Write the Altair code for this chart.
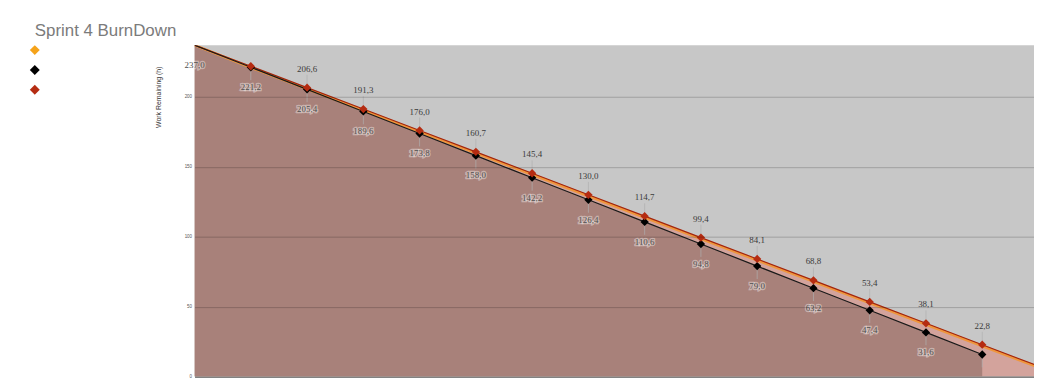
import altair as alt
import pandas as pd

# ---- data ----
series_names = ["Remaining (orange)", "Ideal", "Actual"]
series_colors = ["#f5a31a", "#000000", "#b52c12"]

days_ideal = list(range(0, 15))
ideal = [237.0, 221.2, 205.4, 189.6, 173.8, 158.0, 142.2, 126.4, 110.6, 94.8, 79.0, 63.2, 47.4, 31.6, 15.8]

days_actual = list(range(0, 16))
actual = [237.0, 221.9, 206.6, 191.3, 176.0, 160.7, 145.4, 130.0, 114.7, 99.4, 84.1, 68.8, 53.4, 38.1, 22.8, 7.5]
orange = [237.0, 221.0, 205.7, 190.4, 175.1, 159.8, 144.5, 129.1, 113.8, 98.5, 83.2, 67.9, 52.5, 37.2, 21.9, 6.6]

y_ticks = [0, 50, 100, 150, 200]

def fmt(v):
    return f"{v:.1f}".replace(".", ",")

ideal_df = pd.DataFrame({"day": days_ideal, "value": ideal, "series": "Ideal"})
actual_df = pd.DataFrame({"day": days_actual, "value": actual, "series": "Actual"})
orange_df = pd.DataFrame({"day": days_actual, "value": orange, "series": "Remaining (orange)"})
for d in (ideal_df, actual_df, orange_df):
    d["label"] = d["value"].map(fmt)

X_MAX = 14.92
xs = alt.Scale(domain=[0, X_MAX], nice=False, zero=False)
ys = alt.Scale(domain=[0, 237], nice=False)
cs = alt.Scale(domain=series_names, range=series_colors)

x_enc = alt.X("day:Q", scale=xs,
              axis=alt.Axis(labels=False, ticks=False, grid=False, domain=True,
                            domainColor="#6e6e6e", domainWidth=1.2, title=None))
y_enc = alt.Y("value:Q", scale=ys,
              axis=alt.Axis(values=y_ticks, grid=True, gridColor="#000000", gridOpacity=0.2,
                            gridWidth=1, ticks=False, domain=False, labelFontSize=4.5,
                            labelColor="#555555", labelPadding=3, labelFont="Liberation Sans",
                            title="Work Remaining (h)", titleFontSize=7, titleFontWeight="normal",
                            titleColor="#333333", titleFont="Liberation Sans",
                            titleX=-36, titleY=52, titleAngle=270, titleAlign="center",
                            titleBaseline="middle", zindex=1))

area_actual = alt.Chart(actual_df).mark_area(color="#d3a39c", clip=True).encode(x=x_enc, y=y_enc)
area_ideal = alt.Chart(ideal_df).mark_area(color="#a8817a", clip=True).encode(x="day:Q", y="value:Q")

line_orange = alt.Chart(orange_df).mark_line(strokeWidth=2.6, clip=True, color="#ef963c").encode(
    x="day:Q", y="value:Q")
line_ideal = alt.Chart(ideal_df).mark_line(strokeWidth=1.2, clip=True, color="#1a1a1a").encode(
    x="day:Q", y="value:Q")
line_actual = alt.Chart(actual_df).mark_line(strokeWidth=1.2, clip=True, color="#a3260e").encode(
    x="day:Q", y="value:Q")

# leader lines
lead_ideal = alt.Chart(ideal_df[(ideal_df.day >= 1) & (ideal_df.day <= 14)]).mark_rule(
    color="#b0b0b0", strokeWidth=0.7, y2Offset=13).encode(x="day:Q", y="value:Q", y2="value:Q")
lead_actual = alt.Chart(actual_df[(actual_df.day >= 2) & (actual_df.day <= 14)]).mark_rule(
    color="#b0b0b0", strokeWidth=0.7, y2Offset=-13).encode(x="day:Q", y="value:Q", y2="value:Q")

pts_df = pd.concat([ideal_df[(ideal_df.day >= 1) & (ideal_df.day <= 14)],
                    actual_df[(actual_df.day >= 1) & (actual_df.day <= 14)]])
points = alt.Chart(pts_df).mark_point(shape="diamond", filled=True, size=70, opacity=1).encode(
    x="day:Q", y="value:Q",
    color=alt.Color("series:N", scale=cs,
                    legend=alt.Legend(orient="none", legendX=-166, legendY=0, title=None,
                                      symbolType="diamond", symbolSize=100, labelExpr="''",
                                      rowPadding=10, padding=0, symbolStrokeWidth=0,
                                      symbolOpacity=1)))

lab_font = "Liberation Serif"
ideal_lab = ideal_df[ideal_df.day <= 13]
lab_ideal_halo = alt.Chart(ideal_lab).mark_text(
    font=lab_font, fontSize=9, dy=20, stroke="#ffffff", strokeWidth=2.5, strokeOpacity=0.4,
    fill="#ffffff", fillOpacity=0).encode(x="day:Q", y="value:Q", text="label:N")
lab_ideal = alt.Chart(ideal_lab).mark_text(
    font=lab_font, fontSize=9, dy=20, color="#505050").encode(x="day:Q", y="value:Q", text="label:N")
lab_actual = alt.Chart(actual_df[(actual_df.day >= 2) & (actual_df.day <= 14)]).mark_text(
    font=lab_font, fontSize=9, dy=-19, color="#3a3a3a").encode(x="day:Q", y="value:Q", text="label:N")

chart = alt.layer(
    area_actual, area_ideal, line_orange, line_actual, line_ideal,
    lead_ideal, lead_actual, points, lab_ideal_halo, lab_ideal, lab_actual
).properties(
    width=846, height=334,
    title=alt.TitleParams("Sprint 4 BurnDown", anchor="start", frame="group", dx=-161, dy=15,
                          offset=7, baseline="alphabetic", fontSize=17, fontWeight="normal",
                          color="#7b7b7b", font="Liberation Sans"),
    padding={"left": 188, "top": 36, "right": 0, "bottom": 1},
    autosize=alt.AutoSizeParams(type="none"),
    background="#ffffff",
).configure_view(fill="#c7c7c7", stroke=None)

chart.save("out.html", embed_options={"renderer": "svg", "actions": False})
